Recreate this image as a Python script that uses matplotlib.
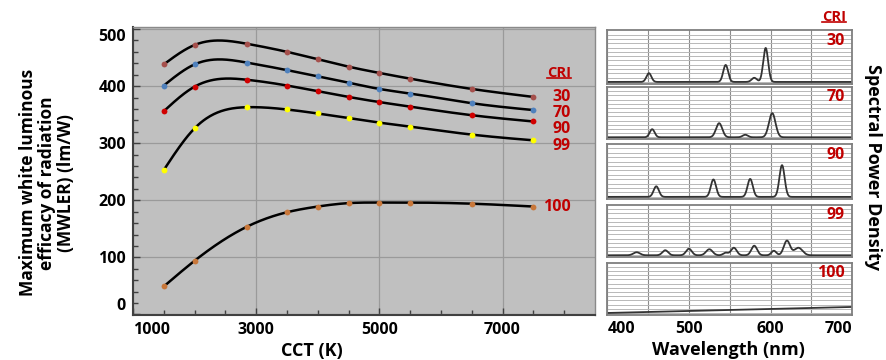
import matplotlib.pyplot as plt
import numpy as np
from matplotlib.lines import Line2D

plt.rcParams['font.family'] = 'Open Sans'
plt.rcParams['font.weight'] = 'bold'

# MWLER (lm/W) vs CCT (K)
cct = [1500, 2000, 2856, 3500, 4000, 4500, 5000, 5500, 6500, 7500]
mwler_30 = [438, 472, 474, 460, 447, 434, 423, 413, 395, 381]
mwler_70 = [401, 438, 441, 428, 417, 406, 395, 387, 370, 358]
mwler_90 = [356, 399, 411, 401, 391, 381, 372, 364, 349, 338]
mwler_99 = [253, 326, 363, 359, 352, 344, 336, 329, 315, 305]
mwler_100 = [49, 94, 154, 179, 189, 195, 196, 196, 194, 189]
cri_names = ['30', '70', '90', '99', '100']
dot_colors = ['#a5504c', '#4f81bd', '#d00000', '#ffff00', '#c8773a']

# spectra: peak wavelength (nm), relative height, width (nm)
spd_30_peak = [451, 545, 580, 594]
spd_30_height = [0.17, 0.33, 0.08, 0.66]
spd_30_width = [3.0, 3.0, 3.2, 3.0]
spd_70_peak = [455, 537, 569, 602]
spd_70_height = [0.16, 0.28, 0.05, 0.48]
spd_70_width = [3.0, 3.8, 3.2, 4.0]
spd_90_peak = [460, 530, 575, 614]
spd_90_height = [0.20, 0.33, 0.34, 0.60]
spd_90_width = [3.2, 3.2, 3.2, 3.2]
spd_99_peak = [436, 471, 500, 525, 545, 555, 580, 604, 620, 634]
spd_99_height = [0.06, 0.10, 0.13, 0.12, 0.05, 0.15, 0.19, 0.09, 0.29, 0.15]
spd_99_width = [4.0, 3.5, 3.5, 4.0, 3.0, 3.5, 3.5, 3.0, 3.8, 5.0]
# CRI 100 is a smooth reference source
spd_100_wl = [400, 500, 600, 700]
spd_100_val = [0.0, 0.04, 0.08, 0.12]


def smooth(x, y, n=400):
    # natural cubic spline through the points, like the smoothed lines in the chart
    x = np.asarray(x, float)
    y = np.asarray(y, float)
    k = len(x)
    h = np.diff(x)
    A = np.zeros((k, k))
    r = np.zeros(k)
    A[0, 0] = A[-1, -1] = 1
    for i in range(1, k - 1):
        A[i, i - 1] = h[i - 1]
        A[i, i] = 2 * (h[i - 1] + h[i])
        A[i, i + 1] = h[i]
        r[i] = 6 * ((y[i + 1] - y[i]) / h[i] - (y[i] - y[i - 1]) / h[i - 1])
    M = np.linalg.solve(A, r)
    xs = np.linspace(x[0], x[-1], n)
    j = np.clip(np.searchsorted(x, xs) - 1, 0, k - 2)
    t0 = x[j + 1] - xs
    t1 = xs - x[j]
    hj = h[j]
    ys = (M[j] * t0**3 + M[j + 1] * t1**3) / (6 * hj) \
        + (y[j] / hj - M[j] * hj / 6) * t0 + (y[j + 1] / hj - M[j + 1] * hj / 6) * t1
    return xs, ys


def peaks(wl, centers, heights, widths):
    s = np.zeros_like(wl)
    for c, a, w in zip(centers, heights, widths):
        s += a * np.exp(-0.5 * ((wl - c) / w) ** 2)
    return s


red = '#c00000'
fig = plt.figure(figsize=(8.86, 3.6), dpi=100)

# ---- left: MWLER vs CCT
ax = fig.add_axes([0.1501, 0.125, 0.5214, 0.7992])
ax.set_facecolor('#c0c0c0')
series = [mwler_30, mwler_70, mwler_90, mwler_99, mwler_100]
for vals, col in zip(series, dot_colors):
    xs, ys = smooth(cct, vals)
    ax.plot(xs, ys, color='black', lw=1.8, zorder=2)
    ax.plot(cct, vals, 'o', color=col, ms=4.2, mec='none', zorder=3)

ax.set_xlim(1000, 8500)
ax.set_ylim(-1, 503)
ax.set_xticks([1000, 3000, 5000, 7000])
ax.set_xticks(np.arange(1500, 8500, 500), minor=True)
ax.set_yticks(np.arange(0, 501, 100))
ax.set_yticks(np.arange(0, 501, 20), minor=True)
ax.grid(True, which='major', color='#9a9a9a', lw=0.9)
ax.set_axisbelow(True)
ax.tick_params(which='both', direction='in', color='#404040', labelsize=11.5)
ax.tick_params(which='major', length=5, width=1)
ax.tick_params(which='minor', length=3.5, width=1)
ax.tick_params(axis='x', pad=5)
ax.tick_params(axis='y', pad=5)
for s in ['left', 'bottom']:
    ax.spines[s].set_color('#404040')
    ax.spines[s].set_linewidth(1.5)
for s in ['top', 'right']:
    ax.spines[s].set_color('#8a8a8a')
    ax.spines[s].set_linewidth(1.0)
xl = ax.get_xticklabels()
xl[0].set_ha('left')
yl = ax.get_yticklabels()
yl[0].set_va('bottom')
yl[-1].set_va('top')

cri_y = [0.758, 0.702, 0.645, 0.587, 0.376]
cri_t = ax.text(0.948, 0.840, 'CRI', transform=ax.transAxes, ha='right', va='center',
                color=red, fontsize=10.5)
for name, yy in zip(cri_names, cri_y):
    ax.text(0.948, yy, name, transform=ax.transAxes, ha='right', va='center',
            color=red, fontsize=11.5)

fig.text(0.053, 0.492, 'Maximum white luminous\nefficacy of radiation\n(MWLER) (lm/W)',
         rotation=90, ha='center', va='center', multialignment='center',
         fontsize=12.5, linespacing=1.1)
fig.text(0.352, 0.025, 'CCT (K)', ha='center', va='center', fontsize=13)

# ---- right: spectra
wl = np.linspace(400, 700, 1201)
spectra = [
    peaks(wl, spd_30_peak, spd_30_height, spd_30_width),
    peaks(wl, spd_70_peak, spd_70_height, spd_70_width),
    peaks(wl, spd_90_peak, spd_90_height, spd_90_width),
    peaks(wl, spd_99_peak, spd_99_height, spd_99_width),
]
boxes = [[0.6854, 0.7667, 0.2765, 0.1486],
         [0.6854, 0.6131, 0.2765, 0.1453],
         [0.6854, 0.4472, 0.2765, 0.1528],
         [0.6854, 0.2853, 0.2765, 0.1453],
         [0.6854, 0.1250, 0.2765, 0.1454]]
for i, box in enumerate(boxes):
    a = fig.add_axes(box)
    if i < 4:
        a.plot(wl, spectra[i], color='#333333', lw=1.3)
    else:
        a.plot(spd_100_wl, spd_100_val, color='#333333', lw=1.3)
    a.set_xlim(400, 700)
    a.set_ylim(-0.04, 1.0)
    a.set_xticks([400, 500, 600, 700])
    a.set_xticks([450, 550, 650], minor=True)
    a.set_yticks(np.arange(0, 1.0, 1 / 12))
    a.xaxis.grid(True, which='both', color='#8c8c8c', lw=0.8)
    a.yaxis.grid(True, color='#b8b8b8', lw=0.7)
    a.set_axisbelow(True)
    a.tick_params(which='both', length=0, labelleft=False, labelbottom=(i == 4),
                  labelsize=11.5, pad=4)
    for s in a.spines.values():
        s.set_color('#7f7f7f')
        s.set_linewidth(1.3)
    a.text(0.97, 0.8, cri_names[i], transform=a.transAxes, ha='right', va='center',
           color=red, fontsize=11.5)
    if i == 4:
        lb = a.get_xticklabels()
        lb[0].set_ha('left')
        lb[-1].set_ha('right')

cri_t2 = fig.text(0.9413, 0.9536, 'CRI', ha='center', va='center', color=red, fontsize=10.5)
fig.text(0.8217, 0.028, 'Wavelength (nm)', ha='center', va='center', fontsize=13)
fig.text(0.985, 0.536, 'Spectral Power Density', rotation=270, ha='center', va='center',
         fontsize=13)

# underline the two CRI headers
fig.canvas.draw()
inv = fig.transFigure.inverted()
for t in [cri_t, cri_t2]:
    bb = t.get_window_extent()
    (x0, y0), (x1, y1) = inv.transform([[bb.x0, bb.y0], [bb.x1, bb.y1]])
    fig.add_artist(Line2D([x0, x1], [y0 + 0.006, y0 + 0.006], color=red, lw=1.2,
                          transform=fig.transFigure))

fig.savefig('out.png', dpi=100)
